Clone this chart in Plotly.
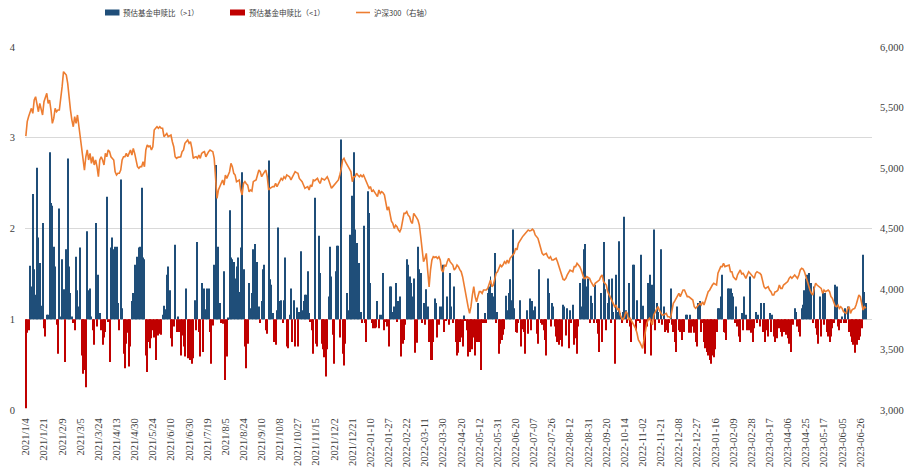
import plotly.graph_objects as go

# ---------------- data ----------------
# Estimated fund subscription / redemption ratio, one value per trading day
RATIO = [
    0.02, 0.85, 0.88, 1.59, 1.36, 2.38, 1.55, 1.27, 2.67, 1.9, 1.62, 1.15, 2.06,
    0.9, 0.81, 1.05, 1.05, 2.84, 2.28, 2.25, 1.8, 1.58, 0.94, 0.62, 2.22, 1.03,
    1.66, 1.33, 0.53, 1.77, 2.77, 1.58, 1.29, 1.03, 0.96, 0.88, 1.69, 1.32, 1.14,
    1.79, 0.6, 0.4, 0.44, 0.25, 1.97, 1.32, 1.34, 1.03, 0.88, 0.72, 2.06, 0.92,
    1.49, 1.07, 0.88, 0.72, 0.8, 0.86, 2.35, 0.97, 0.53, 1.79, 1.9, 1.77, 1.8,
    1.8, 1.18, 0.88, 2.54, 1.12, 0.62, 0.46, 0.73, 0.85, 0.48, 0.7, 1.2, 1.29,
    1.6, 1.4, 1.69, 1.79, 1.8, 2.45, 1.68, 1.66, 0.6, 0.42, 0.75, 0.68, 0.79,
    0.88, 0.8, 0.55, 0.86, 0.82, 0.84, 0.83, 1.05, 1.15, 1.11, 1.49, 1.58, 1.32,
    0.79, 0.7, 0.92, 1.82, 0.86, 1.03, 0.86, 0.6, 0.82, 0.7, 0.59, 1.34, 0.57,
    0.64, 0.55, 0.51, 0.57, 1.21, 0.88, 1.85, 0.86, 0.59, 1.4, 0.64, 1.34, 1.11,
    1.34, 1.34, 0.86, 0.51, 0.93, 1.6, 2.7, 1.25, 1.8, 1.18, 0.96, 0.95, 1.53,
    0.33, 0.59, 1.02, 2.2, 1.68, 1.66, 1.63, 1.45, 1.58, 1.68, 1.3, 1.79, 2.62,
    1.55, 0.7, 0.46, 0.73, 1.4, 1.12, 1.29, 1.77, 1.83, 1.49, 1.63, 1.14, 0.96,
    1.2, 1.55, 1.6, 0.88, 0.84, 2.75, 1.44, 1.38, 1.07, 0.75, 0.72, 1.1, 2.01,
    1.2, 1.21, 0.96, 1.21, 1.68, 0.7, 0.68, 1.05, 1.34, 0.75, 1.21, 0.7, 1.13,
    0.7, 1.08, 1.75, 1.1, 1.2, 1.27, 1.27, 1.53, 1.07, 0.97, 0.88, 0.62, 2.34,
    0.73, 0.7, 1.92, 1.51, 0.73, 0.67, 0.58, 0.37, 0.67, 1.25, 1.8, 1.47, 0.83,
    0.51, 1.53, 1.81, 1.81, 0.8, 2.98, 0.62, 0.49, 0.73, 1.29, 1.1, 1.93, 1.81,
    2.36, 2.84, 1.99, 1.84, 1.36, 1.62, 1.08, 0.96, 2.03, 0.96, 0.75, 2.41, 2.17,
    1.4, 0.96, 0.9, 0.9, 0.91, 1.2, 0.9, 1.05, 1.05, 1.51, 0.88, 0.97, 0.92,
    0.7, 1.36, 1.36, 1.08, 1.14, 1.4, 0.97, 1.2, 1.25, 0.59, 0.73, 0.77, 0.94,
    1.66, 1.6, 1.47, 1.4, 1.25, 1.45, 0.63, 0.74, 1.8, 1.55, 1.51, 0.96, 1.18,
    0.94, 1.33, 1.14, 0.75, 0.55, 0.55, 0.75, 1.23, 1.18, 0.8, 0.94, 1.14, 1.14,
    1.6, 0.86, 0.99, 1.25, 0.94, 1.51, 1.14, 0.96, 1.36, 0.75, 0.6, 0.63, 0.75,
    0.8, 0.7, 1.04, 0.99, 0.88, 0.59, 0.64, 0.71, 0.67, 0.8, 0.6, 0.75, 1.18,
    0.75, 0.44, 0.96, 0.96, 1.07, 0.96, 1.29, 1.36, 1.47, 1.29, 1.25, 1.73, 0.96,
    1.08, 0.62, 0.73, 0.77, 0.83, 0.89, 1.26, 1.1, 1.29, 1.44, 1.21, 1.99, 1.12,
    0.86, 0.85, 0.96, 1.21, 0.7, 0.89, 0.86, 0.62, 1.1, 0.84, 1.23, 0.88, 1.2,
    1.1, 1.14, 0.84, 0.73, 1.55, 0.96, 0.94, 0.88, 0.77, 0.6, 1.45, 1.29, 0.92,
    1.18, 1.14, 0.92, 0.81, 0.75, 0.72, 0.77, 0.7, 1.16, 1.14, 0.82, 1.12, 0.68,
    1.1, 0.96, 1.16, 0.72, 0.79, 0.62, 0.92, 1.4, 1.14, 1.45, 1.77, 1.83, 1.36,
    1.45, 0.96, 1.26, 1.18, 0.96, 1.38, 0.96, 0.84, 0.64, 1.29, 0.75, 1.85, 1.33,
    0.88, 1.18, 1.44, 0.96, 1.45, 1.08, 0.51, 1.49, 1.08, 1.86, 1.07, 0.96, 1.08,
    2.13, 1.1, 0.96, 1.4, 0.92, 0.75, 1.6, 1.6, 0.88, 1.21, 0.99, 0.96, 1.71,
    1.15, 0.77, 0.62, 0.92, 1.4, 1.49, 0.6, 1.38, 1.99, 0.88, 1.18, 1.08, 0.96,
    1.77, 0.94, 1.14, 0.86, 0.88, 0.85, 0.96, 1.34, 0.94, 0.86, 0.75, 0.64, 1.14,
    0.88, 0.86, 0.77, 0.96, 0.86, 1.05, 1.05, 0.85, 1.05, 0.85, 0.92, 0.85, 0.75,
    0.7, 1.18, 1.2, 0.86, 0.96, 0.75, 0.68, 0.64, 0.6, 0.55, 0.51, 0.6, 0.58,
    0.67, 0.86, 1.12, 1.12, 1.25, 1.49, 0.86, 0.85, 0.77, 1.34, 1.34, 1.34, 1.29,
    1.25, 0.96, 1.14, 0.92, 0.81, 0.75, 1.07, 0.88, 1.25, 1.05, 0.88, 0.88, 1.47,
    0.85, 0.75, 0.9, 1.08, 0.96, 1.05, 0.92, 1.18, 0.86, 1.18, 0.75, 0.88, 0.81,
    1.07, 0.86, 1.05, 0.81, 0.75, 0.79, 0.94, 0.9, 0.86, 0.81, 0.86, 0.88, 0.83,
    0.79, 0.73, 0.64, 0.96, 0.94, 1.12, 1.08, 0.92, 0.86, 0.81, 1.12, 1.16, 1.32,
    1.45, 1.49, 1.51, 1.34, 1.4, 0.96, 1.36, 0.9, 0.83, 0.73, 1.25, 0.81, 1.3,
    0.94, 1.29, 0.86, 0.81, 0.75, 0.81, 0.9, 0.96, 1.38, 1.36, 0.92, 0.88, 0.96,
    1.03, 0.96, 1.12, 0.96, 1.14, 0.86, 0.81, 0.75, 0.72, 0.63, 0.75, 0.72, 0.77,
    0.81, 0.9, 1.71, 1.3, 1.18,
]

# CSI 300 close (right axis), one value per trading day
CSI300 = [
    5264, 5383, 5425, 5452, 5493, 5452, 5562, 5589, 5520, 5465, 5534, 5479, 5438,
    5548, 5575, 5617, 5534, 5562, 5479, 5369, 5410, 5493, 5465, 5479, 5479, 5562,
    5672, 5796, 5782, 5768, 5699, 5562, 5479, 5396, 5341, 5424, 5369, 5438, 5341,
    5272, 5149, 5066, 4983, 5093, 5149, 5066, 5121, 5039, 5093, 5025, 5066, 5011,
    4928, 5066, 5093, 5066, 5025, 5121, 5093, 5149, 5135, 5093, 5080, 5066, 4969,
    4942, 4956, 4956, 4983, 5066, 5093, 5093, 5121, 5093, 5121, 5149, 5107, 5162,
    5121, 5066, 5011, 4997, 5011, 5011, 5052, 5011, 5149, 5190, 5176, 5182, 5149,
    5176, 5314, 5328, 5341, 5328, 5341, 5328, 5328, 5259, 5272, 5286, 5259, 5268,
    5272, 5217, 5176, 5093, 5080, 5088, 5093, 5093, 5135, 5149, 5204, 5222, 5231,
    5204, 5217, 5162, 5080, 5090, 5093, 5080, 5107, 5080, 5121, 5130, 5135, 5093,
    5121, 5135, 5149, 5140, 5135, 5080, 4928, 4749, 4818, 4850, 4873, 4901, 4859,
    4942, 4914, 4945, 4969, 5039, 5011, 4956, 4942, 4887, 4895, 4901, 4818, 4777,
    4873, 4887, 4870, 4859, 4804, 4818, 4810, 4887, 4895, 4901, 4942, 4983, 4969,
    4928, 4950, 4969, 4983, 4928, 4818, 4832, 4840, 4846, 4846, 4873, 4846, 4873,
    4895, 4914, 4901, 4928, 4914, 4942, 4935, 4928, 4901, 4928, 4942, 4969, 4962,
    4956, 4914, 4901, 4887, 4860, 4832, 4840, 4846, 4818, 4859, 4846, 4901, 4895,
    4901, 4914, 4887, 4873, 4914, 4905, 4901, 4914, 4928, 4901, 4859, 4832, 4846,
    4859, 4870, 4887, 4901, 4942, 4990, 5066, 5080, 5052, 5025, 5011, 4990, 4969,
    4887, 4928, 4928, 4956, 4940, 4928, 4942, 4928, 4942, 4914, 4890, 4873, 4832,
    4846, 4804, 4818, 4800, 4790, 4763, 4818, 4790, 4804, 4795, 4777, 4722, 4652,
    4680, 4611, 4560, 4542, 4501, 4528, 4515, 4487, 4473, 4500, 4556, 4625, 4625,
    4639, 4610, 4597, 4556, 4542, 4625, 4611, 4590, 4570, 4528, 4432, 4322, 4225,
    4253, 4294, 4150, 4018, 4156, 4239, 4267, 4260, 4267, 4253, 4267, 4239, 4156,
    4140, 4200, 4185, 4226, 4254, 4226, 4210, 4198, 4157, 4171, 4198, 4185, 4160,
    4143, 4102, 4033, 3992, 3909, 3850, 3799, 3854, 3950, 4019, 3937, 3895, 3940,
    3978, 3978, 3964, 3992, 3990, 3992, 4005, 4033, 4074, 4019, 4033, 4080, 4130,
    4143, 4171, 4198, 4185, 4200, 4226, 4212, 4240, 4212, 4254, 4270, 4281, 4295,
    4336, 4323, 4378, 4400, 4419, 4433, 4447, 4461, 4474, 4488, 4480, 4483, 4494,
    4483, 4447, 4430, 4419, 4378, 4323, 4295, 4281, 4290, 4295, 4267, 4254, 4267,
    4240, 4240, 4250, 4254, 4226, 4185, 4143, 4102, 4080, 4074, 4088, 4116, 4143,
    4157, 4150, 4143, 4185, 4185, 4212, 4198, 4185, 4157, 4116, 4088, 4088, 4102,
    4095, 4088, 4061, 4033, 4019, 4047, 4055, 4061, 4074, 4102, 4116, 4061, 4045,
    4033, 3978, 3950, 3923, 3895, 3870, 3854, 3868, 3826, 3840, 3785, 3760, 3744,
    3771, 3813, 3799, 3744, 3758, 3735, 3716, 3689, 3675, 3634, 3579, 3560, 3537,
    3510, 3579, 3648, 3716, 3745, 3758, 3730, 3703, 3785, 3813, 3840, 3854, 3826,
    3799, 3785, 3785, 3790, 3799, 3771, 3771, 3758, 3813, 3882, 3900, 3923, 3950,
    3964, 3937, 3960, 3992, 3992, 3964, 3937, 3937, 3930, 3923, 3909, 3854, 3840,
    3854, 3870, 3882, 3868, 3895, 3868, 3909, 3937, 3978, 3990, 4019, 4033, 4047,
    4040, 4033, 4130, 4157, 4185, 4185, 4212, 4185, 4190, 4198, 4198, 4143, 4143,
    4100, 4088, 4074, 4116, 4143, 4157, 4125, 4130, 4110, 4088, 4116, 4143, 4130,
    4116, 4102, 4088, 4130, 4143, 4135, 4130, 4116, 4074, 4019, 4005, 4015, 4019,
    3992, 3978, 3950, 3950, 3978, 3980, 3992, 4033, 4005, 4005, 4033, 4040, 4047,
    4061, 4088, 4102, 4088, 4100, 4116, 4102, 4088, 4116, 4157, 4171, 4165, 4143,
    4102, 4074, 4019, 3990, 3964, 3950, 4005, 4047, 4033, 4025, 4019, 4005, 3964,
    3992, 3978, 3985, 3992, 3978, 3937, 3923, 3882, 3860, 3854, 3868, 3840, 3854,
    3840, 3813, 3805, 3799, 3840, 3854, 3799, 3826, 3835, 3840, 3868, 3909, 3950,
    3937, 3882, 3826, 3854, 3840,
]

# x tick labels, one every 13 trading days
TICK_LABELS = [
    "2021/1/4", "2021/1/21", "2021/2/9", "2021/3/5", "2021/3/24", "2021/4/13",
    "2021/4/30", "2021/5/24", "2021/6/10", "2021/6/30", "2021/7/19", "2021/8/5",
    "2021/8/24", "2021/9/10", "2021/10/8", "2021/10/27", "2021/11/15", "2021/12/2",
    "2021/12/21", "2022-01-10", "2022-01-27", "2022-02-22", "2022-03-11",
    "2022-03-30", "2022-04-20", "2022-05-12", "2022-05-31", "2022-06-20",
    "2022-07-07", "2022-07-26", "2022-08-12", "2022-08-31", "2022-09-20",
    "2022-10-14", "2022-11-02", "2022-11-21", "2022-12-08", "2022-12-27",
    "2023-01-16", "2023-02-09", "2023-02-28", "2023-03-17", "2023-04-06",
    "2023-04-25", "2023-05-17", "2023-06-05", "2023-06-26",
]
TICK_STEP = 13

SERIES_NAMES = ["预估基金申赎比（>1）", "预估基金申赎比（<1）", "沪深300（右轴）"]
BLUE, RED, ORANGE = "#1F4E79", "#C00000", "#ED7D31"

# ---------------- figure ----------------
N = len(RATIO)
assert len(CSI300) == N
days = list(range(N))
up = [v - 1 if v >= 1 else None for v in RATIO]
down = [v - 1 if v < 1 else None for v in RATIO]

fig = go.Figure()
fig.add_trace(go.Bar(x=days, y=up, base=1, name=SERIES_NAMES[0],
                     marker=dict(color=BLUE, line=dict(width=0))))
fig.add_trace(go.Bar(x=days, y=down, base=1, name=SERIES_NAMES[1],
                     marker=dict(color=RED, line=dict(width=0))))
fig.add_trace(go.Scatter(x=days, y=CSI300, yaxis="y2", mode="lines",
                         name=SERIES_NAMES[2],
                         line=dict(color=ORANGE, width=1.6)))

tick_font = dict(family="Liberation Serif, Times New Roman, serif", size=10.5, color="#404040")

# the page body adds an 8px offset; layout is given in screen pixels
OFF = 8
W, H = 913, 471
SX0, SX1, SY0, SY1 = 25, 872, 47, 410          # plot area on screen
L, T = SX0 - OFF, SY0 - OFF
R, B = W - (SX1 - OFF), H - (SY1 - OFF)
pw, ph = SX1 - SX0, SY1 - SY0


def px(x):
    return (x - SX0) / pw


def py(y):
    return (SY1 - y) / ph


clear = "rgba(0,0,0,0)"
fig.update_layout(
    width=W, height=H,
    margin=dict(l=L, r=R, t=T, b=B, autoexpand=False),
    paper_bgcolor="white", plot_bgcolor="white",
    barmode="overlay", bargap=0.28,
    showlegend=False,
    xaxis=dict(range=[-0.6, N + 3.4], tickmode="array",
               tickvals=[k * TICK_STEP for k in range(len(TICK_LABELS))],
               ticktext=TICK_LABELS, tickangle=-90, tickfont=tick_font,
               showgrid=False, zeroline=False, showline=False,
               ticks="outside", ticklen=3, tickcolor=clear, automargin=False),
    yaxis=dict(range=[0, 4], dtick=1, tick0=0, showgrid=True,
               gridcolor="#D9D9D9", gridwidth=1, zeroline=False,
               showline=False, ticks="outside", ticklen=7, tickcolor=clear,
               tickfont=tick_font, automargin=False),
    yaxis2=dict(range=[3000, 6000], dtick=500, tick0=3000, overlaying="y",
                side="right", showgrid=False, zeroline=False, showline=False,
                tickformat=",", ticks="outside", ticklen=5, tickcolor=clear,
                tickfont=tick_font, automargin=False),
)

# custom legend row on top
leg_font = dict(family="Noto Sans CJK SC", size=7.5, color="#404040")
fig.add_shape(type="rect", xref="paper", yref="paper", x0=px(105), x1=px(119.5),
              y0=py(15.5), y1=py(9.5), fillcolor=BLUE, line=dict(width=0))
fig.add_shape(type="rect", xref="paper", yref="paper", x0=px(230), x1=px(245),
              y0=py(15.5), y1=py(9.5), fillcolor=RED, line=dict(width=0))
fig.add_shape(type="line", xref="paper", yref="paper", x0=px(356), x1=px(370),
              y0=py(12.5), y1=py(12.5), line=dict(color=ORANGE, width=1.6))
for xpos, txt in [(121, SERIES_NAMES[0]), (247, SERIES_NAMES[1]), (372, SERIES_NAMES[2])]:
    fig.add_annotation(xref="paper", yref="paper", x=px(xpos), y=py(12.5),
                       xanchor="left", yanchor="middle", text=txt,
                       showarrow=False, font=leg_font)

fig.write_html("out.html")
